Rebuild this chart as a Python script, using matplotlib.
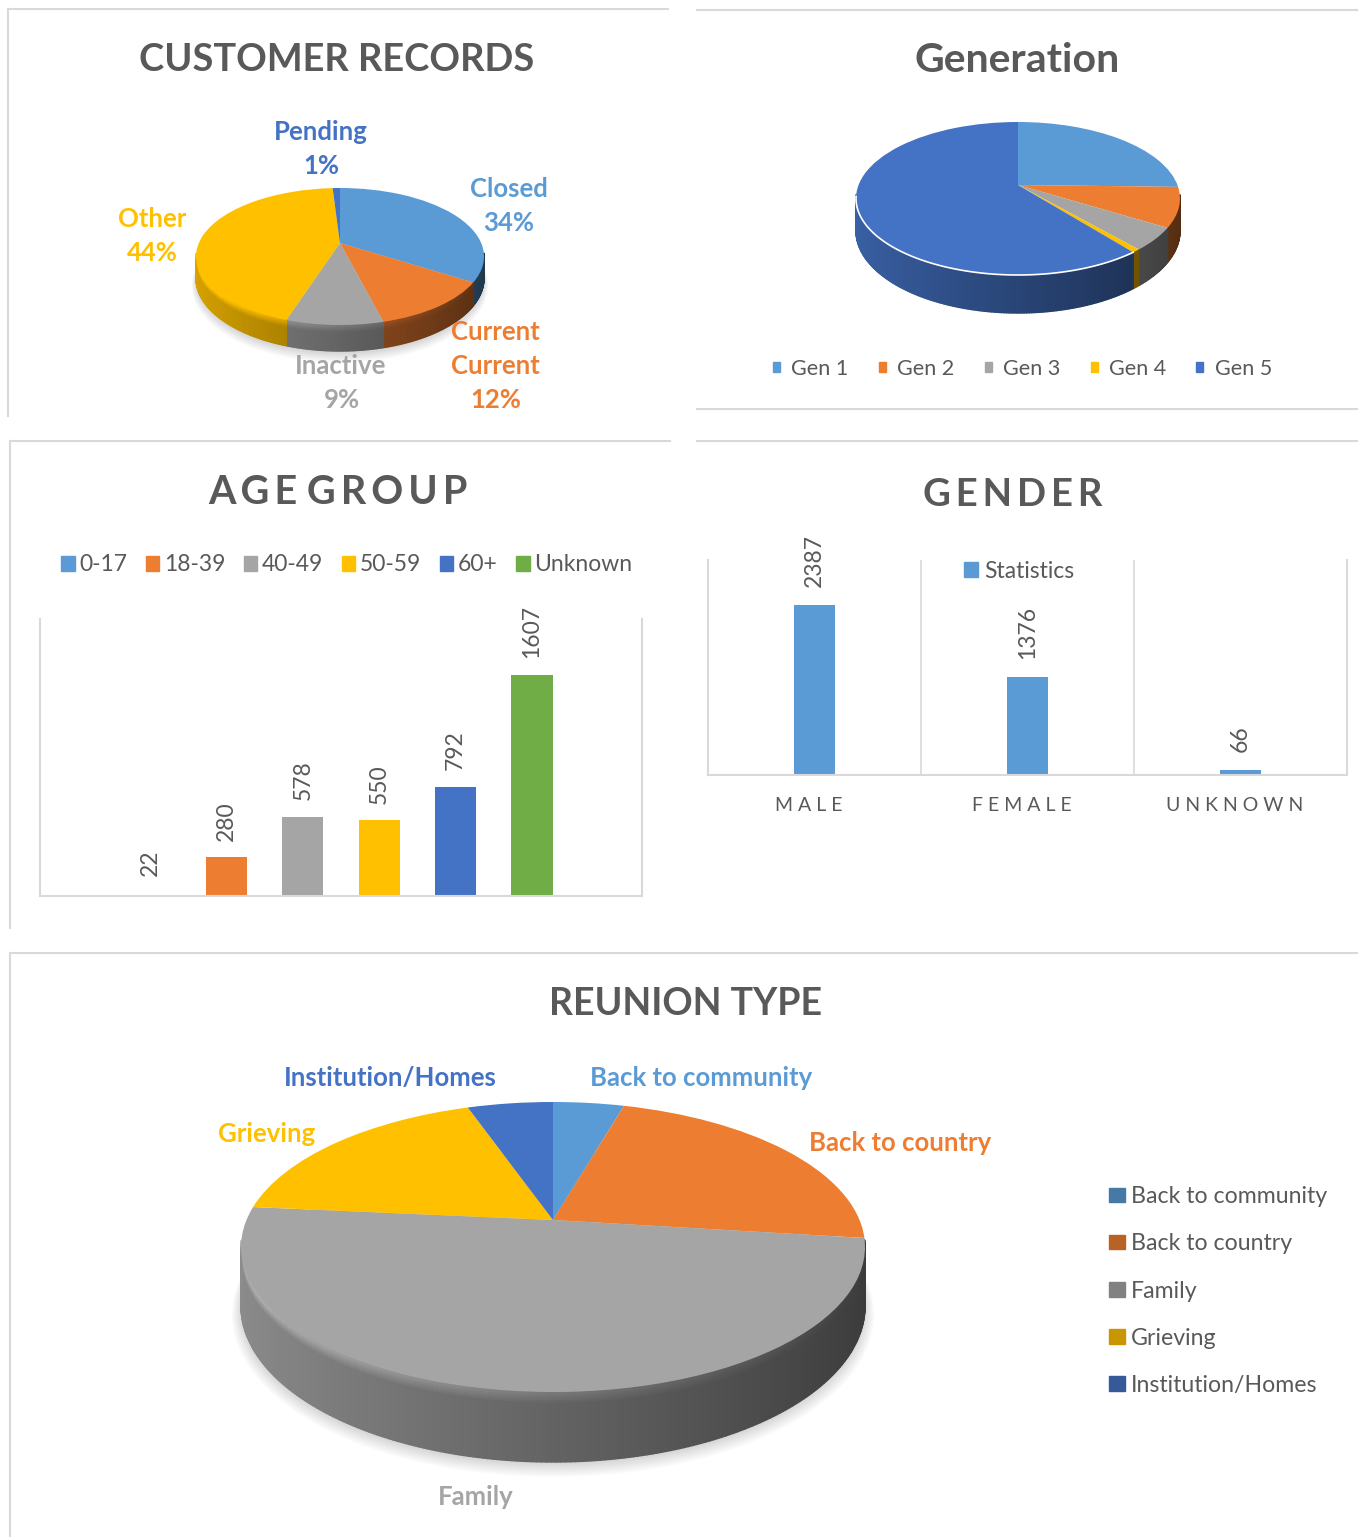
import numpy as np
import matplotlib
matplotlib.use("Agg")
import matplotlib.pyplot as plt
from matplotlib.collections import PolyCollection
from matplotlib.colors import to_rgb
from matplotlib.patches import Circle, Patch
from matplotlib.transforms import ScaledTranslation, Transform

plt.rcParams['font.family'] = ['Lato', 'DejaVu Sans']

W, H = 1361, 1537
BLUE, ORANGE, GRAY, YELLOW, DBLUE, GREEN = '#5B9BD5', '#ED7D31', '#A5A5A5', '#FFC000', '#4472C4', '#70AD47'
TXT = '#595959'
FRAME = '#D9D9D9'

# data
record_labels = ['Closed', 'Current', 'Inactive', 'Other', 'Pending']
record_values = [34, 12, 9, 44, 1]
record_colors = [BLUE, ORANGE, GRAY, YELLOW, DBLUE]

gen_labels = ['Gen 1', 'Gen 2', 'Gen 3', 'Gen 4', 'Gen 5']
gen_values = [25.4, 8.4, 4.8, 0.7, 60.7]
gen_colors = [BLUE, ORANGE, GRAY, YELLOW, DBLUE]

age_labels = ['0-17', '18-39', '40-49', '50-59', '60+', 'Unknown']
age_values = [22, 280, 578, 550, 792, 1607]
age_colors = [BLUE, ORANGE, GRAY, YELLOW, DBLUE, GREEN]

gender_labels = ['MALE', 'FEMALE', 'UNKNOWN']
gender_values = [2387, 1376, 66]

reunion_labels = ['Back to community', 'Back to country', 'Family', 'Grieving', 'Institution/Homes']
reunion_values = [4.4, 22.6, 49.5, 18.2, 5.3]
reunion_colors = [BLUE, ORANGE, GRAY, YELLOW, DBLUE]


class Tilt(Transform):
    # unit circle -> perspective ellipse, apex stays at 0,0
    input_dims = 2
    output_dims = 2

    def __init__(self, a, b, p, drop=0):
        super().__init__()
        self.a, self.b, self.p, self.drop = a, b, p, drop

    def transform_non_affine(self, xy):
        xy = np.asarray(xy)
        w = 1 + self.p * xy[:, 1]
        return np.column_stack((self.a * xy[:, 0] / w, self.b * xy[:, 1] / w - self.drop / w))


def px_axes(x0, y0, x1, y1):
    return fig.add_axes([x0 / W, 1 - y1 / H, (x1 - x0) / W, (y1 - y0) / H])


def pie3d(cx, cy, rx, back, front, depth, values, colors, bevel=0, shadow=False, rim=False):
    p = (front - back) / (front + back)
    b = back * (1 + p)
    a = rx * np.sqrt(1 - p ** 2)
    d = depth * (1 - p)
    pad = 40
    ax = px_axes(cx - rx - pad, cy - back - pad, cx + rx + pad, cy + front + depth + pad)
    ax.patch.set_alpha(0)
    tilt = Tilt(a, b, p)

    if shadow:
        for k in range(8):
            c = Circle((0, 0), 1.0 + 0.004 * k, fc='k', ec='none', alpha=0.018,
                       transform=Tilt(a, b, p, d + 2 + 0.7 * k) + ax.transData)
            ax.add_patch(c)

    # wall of the disc, shaded from left to right, soft bevel rows at the top of it
    rows = 5 if bevel else 1
    edges = [0.0] + [bevel * (k + 1) / rows for k in range(rows - 1)] + [d]
    bounds = np.cumsum([0] + list(values)) / sum(values) * 2 * np.pi
    quads, cols = [], []
    for i in range(len(values)):
        n = max(2, int((bounds[i + 1] - bounds[i]) / np.radians(0.75)) + 1)
        th = np.linspace(bounds[i], bounds[i + 1], n + 1)
        base = np.array(to_rgb(colors[i]))
        for t0, t1 in zip(th[:-1], th[1:]):
            if np.cos((t0 + t1) / 2) > -p + 0.05:
                continue  # back of the disc, hidden by the top
            pts = np.array([[np.sin(t0), np.cos(t0)], [np.sin(t1), np.cos(t1)]])
            w = 1 + p * pts[:, 1]
            top = tilt.transform_non_affine(pts)
            s = (np.sin((t0 + t1) / 2) + 1) / 2
            shade = 0.85 - 0.5 * s
            for k in range(rows - 1, -1, -1):
                hi = top - np.column_stack((0 * w, edges[k] / w))
                lo = top - np.column_stack((0 * w, edges[k + 1] / w))
                quads.append([hi[0], hi[1], lo[1], lo[0]])
                mix = k / max(rows - 1, 1)
                light = base * (1.1 - 0.75 * s)
                cols.append(np.clip(base * shade if not bevel else light * (1 - mix) + base * shade * mix, 0, 1))
    ax.add_collection(PolyCollection(quads, facecolors=cols, edgecolors=cols, linewidths=1.0))

    wedges, _ = ax.pie(values, colors=colors, startangle=90, counterclock=False, radius=1)
    for wd in wedges:
        wd.set_transform(tilt + ax.transData)
        wd.set_linewidth(0)

    if rim:
        t = np.linspace(bounds[-2], 1.5 * np.pi - 0.15, 80)
        r = tilt.transform_non_affine(np.column_stack((np.sin(t), np.cos(t))))
        ax.plot(r[:, 0], r[:, 1], color='white', lw=1.2)

    ax.set_aspect('auto')
    ax.set_xlim(-rx - pad, rx + pad)
    ax.set_ylim(-front - depth - pad, back + pad)
    ax.axis('off')
    return ax


def bar_style(ax):
    ax.spines['top'].set_visible(False)
    for s in ['left', 'right', 'bottom']:
        ax.spines[s].set_color(FRAME)
        ax.spines[s].set_linewidth(1.5)
    ax.set_yticks([])
    ax.patch.set_alpha(0)


def px_legend(handles, labels, x, y, **kw):
    return fig.legend(handles, labels, loc='center left', bbox_to_anchor=(x / W, 1 - y / H),
                      frameon=False, borderpad=0, borderaxespad=0, labelcolor=TXT, **kw)


fig = plt.figure(figsize=(W / 100, H / 100), dpi=100, facecolor='white')

# panel frames and all loose text live on a pixel-sized background axes
bg = fig.add_axes([0, 0, 1, 1], zorder=-1)
bg.set_xlim(0, W)
bg.set_ylim(H, 0)
bg.axis('off')
frame_lines = [((8, 668), (9, 9)), ((8, 8), (9, 416)),
               ((697, 1357), (10, 10)), ((697, 1357), (409, 409)),
               ((10, 670), (441, 441)), ((10, 10), (441, 928)),
               ((697, 1357), (441, 441)),
               ((10, 1357), (953, 953)), ((10, 10), (953, 1537))]
for xs, ys in frame_lines:
    bg.plot(xs, ys, color=FRAME, lw=1.5)

top = fig.add_axes([0, 0, 1, 1], zorder=5)
top.set_xlim(0, W)
top.set_ylim(H, 0)
top.axis('off')


def label(x, y, s, color=TXT, size=18.5, weight='bold'):
    top.text(x, y, s, color=color, fontsize=size, fontweight=weight, ha='center', va='center')


# titles
label(337, 60, 'CUSTOMER RECORDS', size=27.4)
label(1017, 61, 'Generation', size=29.5)
label(338, 493, 'A\u2009G\u2009E G\u2009R\u2009O\u2009U\u2009P', size=28.5)
label(1013, 495, 'G\u2009E\u2009N\u2009D\u2009E\u2009R', size=27.6)
label(686, 1004, 'REUNION TYPE', size=27)

# customer records
pie3d(340, 243, 144, 55, 82, 26, record_values, record_colors, bevel=6, shadow=True)
label(321, 132, 'Pending', DBLUE)
label(321, 166, '1%', DBLUE)
label(509, 189, 'Closed', BLUE)
label(509, 223, '34%', BLUE)
label(152, 219, 'Other', YELLOW)
label(152, 253, '44%', YELLOW)
label(495, 332, 'Current', ORANGE)
label(495, 366, 'Current', ORANGE)
label(496, 400, '12%', ORANGE)
label(341, 366, 'Inactive', GRAY)
label(342, 400, '9%', GRAY)

# generation
pie3d(1018, 185, 162, 63, 90, 38, gen_values, gen_colors, rim=True)
px_legend([Patch(color=c) for c in gen_colors], gen_labels, 773, 369, ncol=5, fontsize=15.6,
          handlelength=0.32, handleheight=0.32, handletextpad=0.52, columnspacing=1.4)

# age group
ax_age = px_axes(40, 619, 642, 896)
x_age = np.arange(len(age_values))
age_bars = ax_age.bar(x_age, age_values, width=0.54, color=age_colors)
ax_age.bar_label(age_bars, rotation=90, padding=12, color=TXT, fontsize=16.5)
age_bars[0].set_visible(False)  # too thin to show in the original
ax_age.set_xlim(-1.44, 6.44)
ax_age.set_ylim(0, 2014)
ax_age.set_xticks([])
bar_style(ax_age)
px_legend([Patch(color=c) for c in age_colors], age_labels, 61, 565, ncol=6, fontsize=16.5,
          handlelength=0.6, handleheight=0.6, handletextpad=0.2, columnspacing=0.8)

# gender
ax_gen = px_axes(708, 560, 1347, 775)
x_gen = np.arange(len(gender_values))
gen_bars = ax_gen.bar(x_gen, gender_values, width=0.188, color=BLUE, label='Statistics')
ax_gen.bar_label(gen_bars, rotation=90, padding=13, color=TXT, fontsize=16.5, clip_on=False)
ax_gen.set_xlim(-0.5, 2.5)
ax_gen.set_ylim(0, 3020)
ax_gen.set_xticks(x_gen, ['\u2009\u2009'.join(s) for s in gender_labels], color=TXT, fontsize=14)
ax_gen.set_xticks([0.5, 1.5], minor=True)
ax_gen.tick_params(axis='x', which='both', length=0, pad=16)
for lab in ax_gen.get_xticklabels():
    lab.set_transform(lab.get_transform() + ScaledTranslation(-0.06, 0, fig.dpi_scale_trans))
ax_gen.grid(axis='x', which='minor', color=FRAME, lw=1.2)
ax_gen.set_axisbelow(True)
bar_style(ax_gen)
px_legend([Patch(color=BLUE)], ['Statistics'], 964, 571, fontsize=16.5,
          handlelength=0.6, handleheight=0.6, handletextpad=0.3)

# reunion type
pie3d(553, 1220, 312, 118, 172, 70, reunion_values, reunion_colors, bevel=10, shadow=True)
label(390, 1078, 'Institution/Homes', DBLUE)
label(701, 1078, 'Back to community', BLUE)
label(267, 1134, 'Grieving', YELLOW)
label(900, 1143, 'Back to country', ORANGE)
label(476, 1497, 'Family', GRAY)
px_legend([Patch(color=np.array(to_rgb(c)) * 0.78) for c in reunion_colors], reunion_labels, 1109, 1291,
          fontsize=16.7, handlelength=0.68, handleheight=0.6, handletextpad=0.25, labelspacing=1.13)

fig.savefig('out.png', dpi=100)
